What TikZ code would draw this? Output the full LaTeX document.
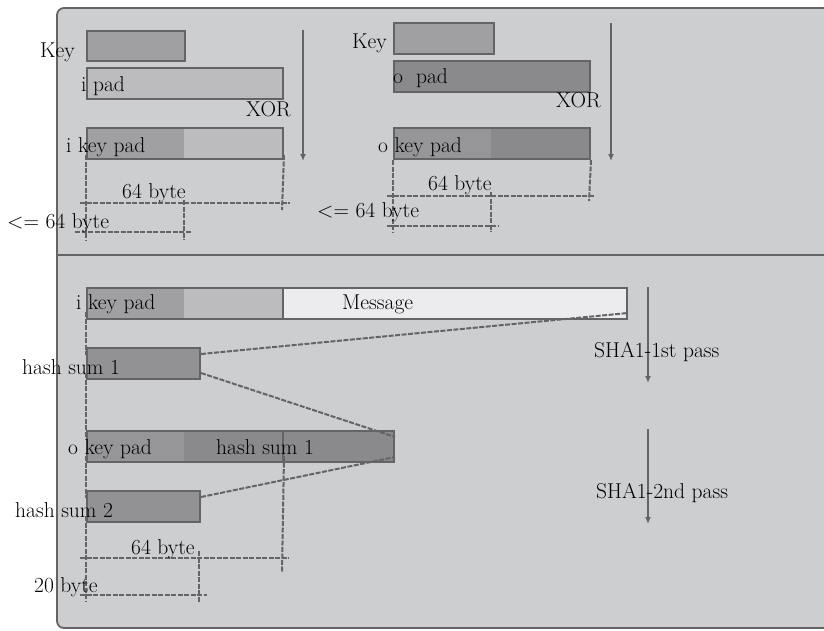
\documentclass[tikz,border=0pt]{standalone}
\usepackage{amsmath,amssymb}
\usepackage{fontspec}
\setmainfont{Latin Modern Roman}
\usepackage[dvipsnames]{xcolor}
\usepackage{tikz}
\usetikzlibrary{arrows.meta}

\definecolor{panelgray}{RGB}{205,206,208}
\definecolor{framegray}{RGB}{100,100,102}
\definecolor{linegray}{RGB}{100,100,102}
\definecolor{keygray}{RGB}{160,160,162}
\definecolor{padgray}{RGB}{188,188,190}
\definecolor{opadgray}{RGB}{138,138,140}
\definecolor{okeygray}{RGB}{150,150,152}
\definecolor{hashgray}{RGB}{146,146,148}
\definecolor{msggray}{RGB}{236,236,238}

\begin{document}
\begin{tikzpicture}[x=1pt,y=-1pt,
 bar/.style={draw=linegray,line width=2pt,anchor=north west,inner sep=0pt,minimum height=31pt},
 lbl/.style={anchor=base west,inner sep=0pt,font=\fontsize{21.5}{25}\selectfont},
 dim/.style={linegray,line width=2pt,dash pattern=on 5pt off 1.5pt},
 flow/.style={-{Latex[length=7pt,width=6pt]},linegray,line width=2.2pt}]
 \useasboundingbox (0,0) rectangle (824,630);
 \draw[rounded corners=7pt,fill=panelgray,draw=framegray,line width=1.8pt] (57,8) rectangle (840,628);
 \draw[framegray,line width=2.2pt] (57,255)--(824,255);

 % inner key pad
 \node[bar,fill=keygray,minimum width=98pt,minimum height=30pt] (keyA) at (86,30) {};
 \node[bar,fill=padgray,minimum width=196pt] (ipad) at (86,67) {};
 \fill[keygray] (86,127) rectangle (184,158);
 \fill[padgray] (184,127) rectangle (282,158);
 \node[bar,minimum width=196pt] (ikeyA) at (86,127) {};
 \coordinate (xorAtop) at (303,30);
 \coordinate (xorAbot) at (303,161);
 \draw[flow] (xorAtop)--(xorAbot);
 \node[lbl] (keyAl) at (40,57) {Key};
 \node[lbl] (ipadl) at (81,91) {i pad};
 \node[lbl] (xorAl) at (246,116) {XOR};
 \node[lbl] (ikeyAl) at (66,152) {i key pad};
 \draw[dim] ([yshift=5pt]ikeyA.south west)--(86,240);
 \draw[dim] ([yshift=5pt]ikeyA.south east)--(282,210);
 \draw[dim] (184,200)--(184,240);
 \draw[dim] (80,203)--(290,203);
 \draw[dim] (75,232)--(192,232);
 \node[lbl] (sizeA) at (122,198) {64 byte};
 \node[lbl] (keysizeA) at (7,228) {<= 64 byte};

 % outer key pad
 \node[bar,fill=keygray,minimum width=100pt] (keyB) at (393,22) {};
 \node[bar,fill=opadgray,minimum width=196pt] (opad) at (393,60) {};
 \fill[okeygray] (393,127) rectangle (491,158);
 \fill[opadgray] (491,127) rectangle (589,158);
 \node[bar,minimum width=196pt] (okeyB) at (393,127) {};
 \coordinate (xorBtop) at (611,23);
 \coordinate (xorBbot) at (611,161);
 \draw[flow] (xorBtop)--(xorBbot);
 \node[lbl] (keyBl) at (352,48) {Key};
 \node[lbl] (opadl) at (393,83) {o\ \ pad};
 \node[lbl] (xorBl) at (556,107) {XOR};
 \node[lbl] (okeyBl) at (378,152) {o key pad};
 \draw[dim] (okeyB.south west)--(393,232);
 \draw[dim] (okeyB.south east)--(589,201);
 \draw[dim] (491,192)--(491,232);
 \draw[dim] (387,196)--(595,196);
 \draw[dim] (387,226)--(499,226);
 \node[lbl] (sizeB) at (428,190) {64 byte};
 \node[lbl] (keysizeB) at (317,217) {<= 64 byte};

 % two SHA1 passes
 \fill[keygray] (86,287) rectangle (184,318);
 \fill[padgray] (184,287) rectangle (282,318);
 \node[bar,minimum width=196pt] (ikeyC) at (86,287) {};
 \node[bar,fill=msggray,minimum width=344pt] (msg) at (282,287) {};
 \node[lbl] (ikeyCl) at (76,309) {i key pad};
 \node[lbl] (msgl) at (342,309) {Message};

 \node[bar,fill=hashgray,minimum width=113pt] (hashA) at (86,347) {};
 \node[lbl] (hashAl) at (22,374) {hash sum 1};

 \fill[okeygray] (86,430) rectangle (184,461);
 \fill[opadgray] (184,430) rectangle (282,461);
 \node[bar,minimum width=196pt] (okeyC) at (86,430) {};
 \node[bar,fill=opadgray,minimum width=111pt] (hashB) at (282,430) {};
 \node[lbl] (okeyCl) at (68,454) {o key pad};
 \node[lbl] (hashBl) at (216,454) {hash sum 1};

 \node[bar,fill=hashgray,minimum width=113pt] (hashC) at (86,490) {};
 \node[lbl] (hashCl) at (15,517) {hash sum 2};

 \draw[dim] ([yshift=8pt]ikeyC.south west)--([yshift=-8pt]hashA.north west);
 \draw[dim] ([yshift=-7pt]hashA.north east)--([yshift=7pt]msg.south east);
 \draw[dim] ([yshift=7pt]hashA.south west)--([yshift=-8pt]okeyC.north west);
 \draw[dim] ([yshift=7pt]hashA.south east)--([yshift=-7pt]hashB.north east);
 \draw[dim] ([yshift=7pt]okeyC.south west)--([yshift=-8pt]hashC.north west);
 \draw[dim] ([yshift=-7pt]hashC.north east)--([yshift=6pt]hashB.south east);
 \draw[dim] ([yshift=7pt]hashC.south west)--(86,602);
 \draw[dim] ([yshift=7pt]okeyC.south east)--(282,572);
 \draw[dim] (199,551)--(199,603);
 \draw[dim] (80,558)--(289,558);
 \draw[dim] (80,595)--(207,595);
 \node[lbl] (sizeC) at (131,554) {64 byte};
 \node[lbl] (hashsize) at (34,592) {20 byte};

 \coordinate (passAtop) at (648,287);
 \coordinate (passAbot) at (648,383);
 \coordinate (passBtop) at (648,429);
 \coordinate (passBbot) at (648,524);
 \draw[flow] (passAtop)--(passAbot);
 \draw[flow] (passBtop)--(passBbot);
 \node[lbl] (passAl) at (594,357) {SHA1-1st pass};
 \node[lbl] (passBl) at (596,498) {SHA1-2nd pass};
\end{tikzpicture}
\end{document}
